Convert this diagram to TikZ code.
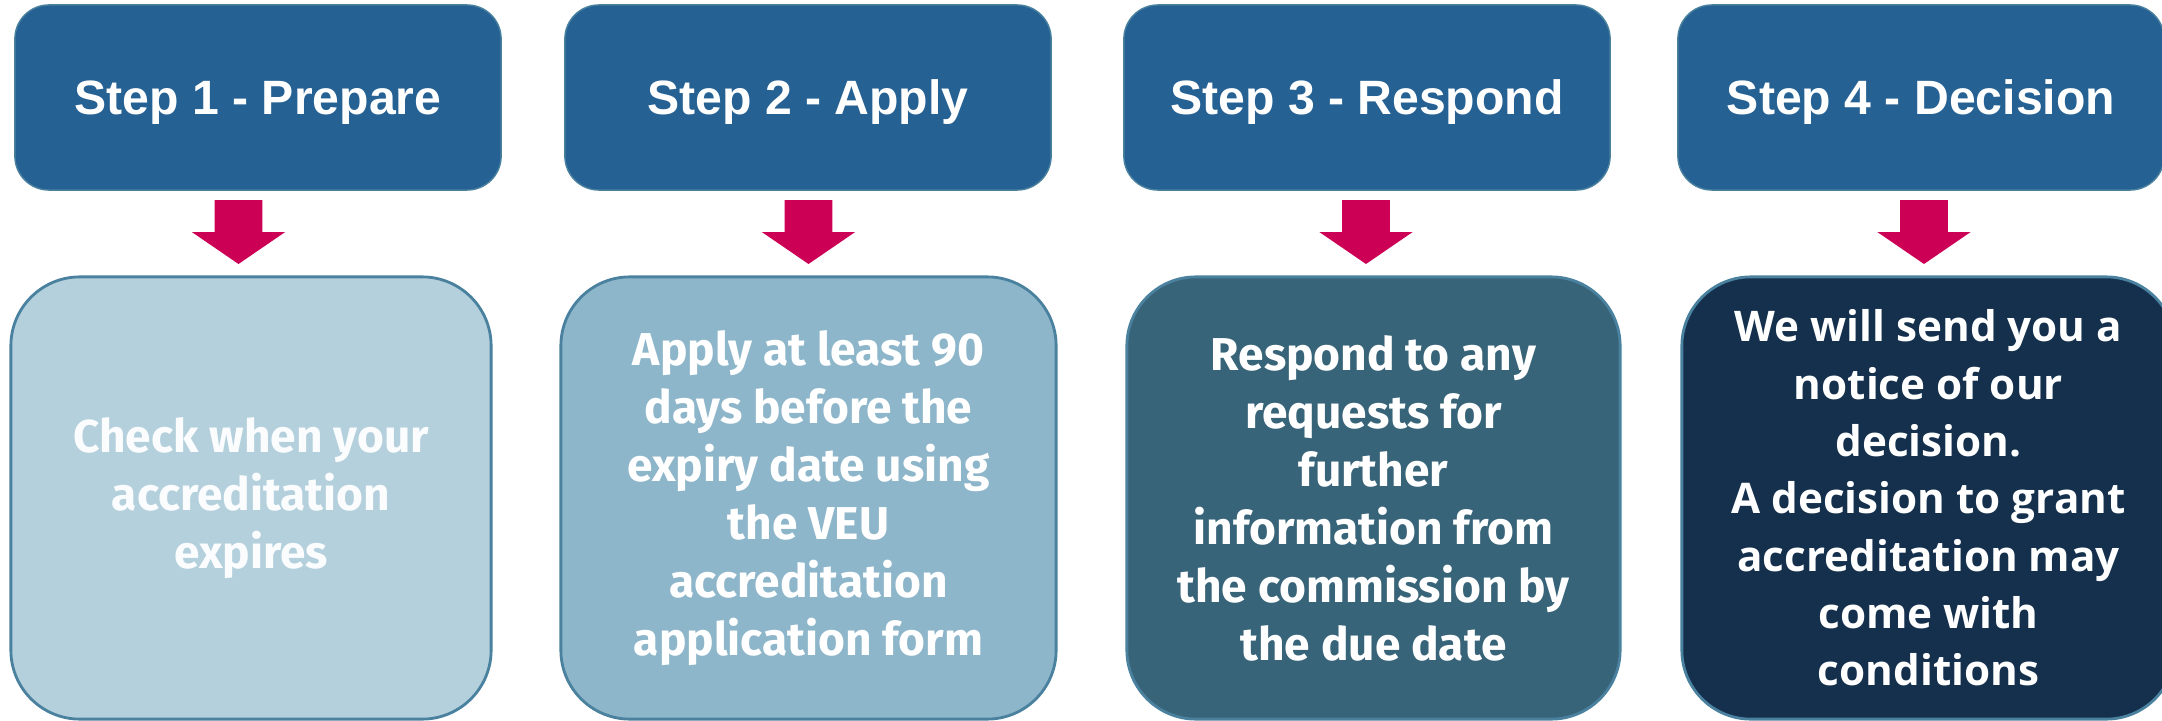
\documentclass[tikz,border=0pt]{standalone}
\usepackage{fontspec}
\usepackage{xcolor}
\usepackage{tikz}
\setmainfont{Liberation Sans}
\newfontfamily\bodyfont{Fira Sans}
\newfontfamily\decfont{Open Sans}

\definecolor{stepblue}{RGB}{37,97,147}
\definecolor{edgeblue}{RGB}{74,129,158}
\definecolor{paleblue}{RGB}{180,208,220}
\definecolor{midblue}{RGB}{141,182,202}
\definecolor{slateblue}{RGB}{56,100,121}
\definecolor{navyblue}{RGB}{20,48,77}
\definecolor{arrowred}{RGB}{204,0,85}

\tikzset{
    stephead/.style={fill=stepblue, draw=edgeblue, line width=0.4pt, rounded corners=0.34cm,
        minimum width=4.86cm, minimum height=1.85cm, text depth=0pt, text=white,
        font=\bfseries\fontsize{13.7}{16}\selectfont},
    stepbody/.style={draw=edgeblue, line width=0.8pt, rounded corners=0.69cm,
        minimum height=4.42cm, text=white, align=center,
        font=\bodyfont\bfseries\fontsize{13.1}{16.5}\selectfont},
}

\begin{document}
\begin{tikzpicture}[x=0.01cm, y=-0.01cm]
        \useasboundingbox (0,0) rectangle (2162,721);
        \clip (0,0) rectangle (2162,721);

        \node[stephead] (h1) at (258,97.5) {Step 1 - Prepare};
        \node[stephead] (h2) at (808,97.5) {Step 2 - Apply};
        \node[stephead] (h3) at (1367,97.5) {Step 3 - Respond};
        \node[stephead] (h4) at (1921,97.5) {Step 4 - Decision};

        \node[stepbody, fill=paleblue, minimum width=4.80cm, text=white!94!paleblue] (b1) at (251,498)
            {Check when your\\accreditation\\expires};
        \node[stepbody, fill=midblue, minimum width=4.95cm] (b2) at (808.5,498)
            {Apply at least 90\\days before the\\expiry date using\\the VEU\\accreditation\\application form};
        \node[stepbody, fill=slateblue, minimum width=4.93cm] (b3) at (1373.5,498)
            {Respond to any\\requests for\\further\\information from\\the commission by\\the due date};
        \node[stepbody, fill=navyblue, minimum width=4.93cm,
            font=\decfont\bfseries\fontsize{12}{16.3}\selectfont] (b4) at (1928.5,498)
            {We will send you a\\notice of our\\decision.\\A decision to grant\\accreditation may\\come with\\conditions};

        \foreach \i/\x in {1/238.5, 2/808.5, 3/1366, 4/1924} {
            \coordinate (a\i) at (\x,264);
            \fill[arrowred] (a\i) -- ++(-46.7,-32) -- ++(22.9,0) -- ++(0,-32) -- ++(47.6,0)
                -- ++(0,32) -- ++(22.9,0) -- cycle;
        }
    \end{tikzpicture}
\end{document}
